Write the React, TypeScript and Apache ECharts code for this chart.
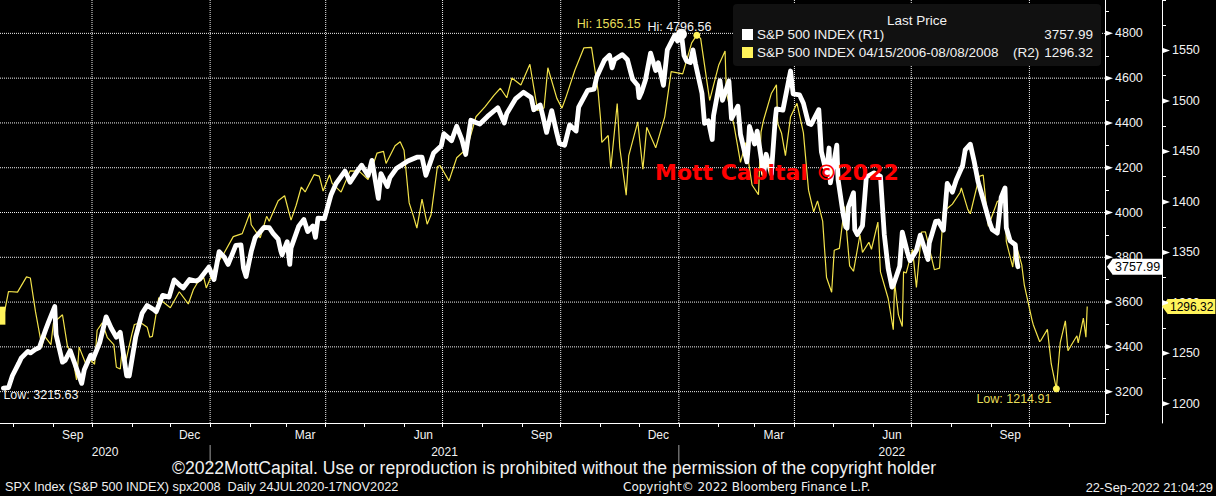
import React, { useEffect, useRef } from 'react';
import * as echarts from 'echarts';

// S&P 500 INDEX (R1), 24 Jul 2020 - 22 Sep 2022
const spx2020: [string, number][] = [
  ['2020-07-24', 3215.63], ['2020-07-28', 3218], ['2020-07-31', 3271], ['2020-08-05', 3327], ['2020-08-07', 3351],
  ['2020-08-12', 3380], ['2020-08-14', 3373], ['2020-08-18', 3389], ['2020-08-21', 3397], ['2020-08-26', 3478],
  ['2020-08-28', 3508], ['2020-09-02', 3580], ['2020-09-03', 3455], ['2020-09-08', 3332], ['2020-09-10', 3339],
  ['2020-09-14', 3383], ['2020-09-18', 3319], ['2020-09-23', 3237], ['2020-09-25', 3298], ['2020-09-30', 3363],
  ['2020-10-02', 3348], ['2020-10-07', 3419], ['2020-10-12', 3534], ['2020-10-16', 3483], ['2020-10-20', 3443],
  ['2020-10-23', 3465], ['2020-10-28', 3271], ['2020-10-30', 3270], ['2020-11-04', 3443], ['2020-11-09', 3550],
  ['2020-11-13', 3585], ['2020-11-18', 3567], ['2020-11-20', 3557], ['2020-11-25', 3630], ['2020-11-30', 3622],
  ['2020-12-04', 3699], ['2020-12-09', 3672], ['2020-12-11', 3663], ['2020-12-16', 3701], ['2020-12-21', 3694],
  ['2020-12-24', 3703], ['2020-12-31', 3756],
];
const spx2021: [string, number][] = [
  ['2021-01-04', 3701], ['2021-01-08', 3825], ['2021-01-12', 3801], ['2021-01-15', 3768], ['2021-01-21', 3853],
  ['2021-01-25', 3855], ['2021-01-27', 3751], ['2021-01-29', 3714], ['2021-02-02', 3826], ['2021-02-05', 3887],
  ['2021-02-12', 3934], ['2021-02-16', 3932], ['2021-02-19', 3907], ['2021-02-23', 3881], ['2021-02-25', 3829],
  ['2021-02-26', 3811], ['2021-03-02', 3870], ['2021-03-04', 3768], ['2021-03-05', 3842], ['2021-03-11', 3939],
  ['2021-03-15', 3969], ['2021-03-18', 3915], ['2021-03-22', 3940], ['2021-03-24', 3889], ['2021-03-26', 3975],
  ['2021-03-31', 3973], ['2021-04-05', 4077], ['2021-04-09', 4129], ['2021-04-16', 4185], ['2021-04-20', 4135],
  ['2021-04-26', 4188], ['2021-04-29', 4211], ['2021-05-04', 4165], ['2021-05-07', 4233], ['2021-05-12', 4063],
  ['2021-05-14', 4174], ['2021-05-19', 4116], ['2021-05-21', 4156], ['2021-05-26', 4196], ['2021-06-04', 4230],
  ['2021-06-11', 4247], ['2021-06-15', 4247], ['2021-06-18', 4166], ['2021-06-24', 4266], ['2021-06-30', 4298],
  ['2021-07-02', 4352], ['2021-07-08', 4321], ['2021-07-12', 4385], ['2021-07-16', 4327], ['2021-07-19', 4259],
  ['2021-07-23', 4412], ['2021-07-27', 4402], ['2021-07-30', 4395], ['2021-08-05', 4429], ['2021-08-13', 4468],
  ['2021-08-18', 4400], ['2021-08-20', 4442], ['2021-08-27', 4509], ['2021-09-02', 4537], ['2021-09-08', 4514],
  ['2021-09-10', 4459], ['2021-09-15', 4480], ['2021-09-17', 4433], ['2021-09-20', 4358], ['2021-09-24', 4455],
  ['2021-09-28', 4353], ['2021-09-30', 4308], ['2021-10-04', 4300], ['2021-10-08', 4391], ['2021-10-13', 4364],
  ['2021-10-15', 4471], ['2021-10-22', 4545], ['2021-10-27', 4551], ['2021-10-29', 4605], ['2021-11-04', 4680],
  ['2021-11-08', 4702], ['2021-11-10', 4646], ['2021-11-12', 4683], ['2021-11-18', 4705], ['2021-11-22', 4682],
  ['2021-11-26', 4595], ['2021-11-30', 4567], ['2021-12-01', 4513], ['2021-12-03', 4538], ['2021-12-06', 4592],
  ['2021-12-10', 4712], ['2021-12-14', 4634], ['2021-12-16', 4669], ['2021-12-20', 4568], ['2021-12-23', 4726],
  ['2021-12-29', 4793], ['2021-12-31', 4766],
];
const spx2022: [string, number][] = [
  ['2022-01-03', 4796.56], ['2022-01-05', 4701], ['2022-01-07', 4677], ['2022-01-10', 4670], ['2022-01-12', 4726],
  ['2022-01-14', 4663], ['2022-01-19', 4533], ['2022-01-21', 4398], ['2022-01-24', 4410], ['2022-01-27', 4326],
  ['2022-01-28', 4432], ['2022-02-02', 4589], ['2022-02-04', 4501], ['2022-02-09', 4587], ['2022-02-11', 4419],
  ['2022-02-16', 4475], ['2022-02-18', 4349], ['2022-02-23', 4226], ['2022-02-24', 4289], ['2022-02-25', 4385],
  ['2022-03-01', 4306], ['2022-03-03', 4363], ['2022-03-08', 4171], ['2022-03-10', 4260], ['2022-03-14', 4173],
  ['2022-03-17', 4412], ['2022-03-18', 4463], ['2022-03-23', 4457], ['2022-03-29', 4632], ['2022-03-31', 4530],
  ['2022-04-05', 4525], ['2022-04-08', 4488], ['2022-04-12', 4397], ['2022-04-14', 4393], ['2022-04-20', 4459],
  ['2022-04-22', 4272], ['2022-04-26', 4175], ['2022-04-28', 4288], ['2022-04-29', 4132], ['2022-05-04', 4301],
  ['2022-05-05', 4147], ['2022-05-09', 3991], ['2022-05-11', 3935], ['2022-05-12', 3930], ['2022-05-13', 4024],
  ['2022-05-17', 4088], ['2022-05-18', 3923], ['2022-05-20', 3901], ['2022-05-24', 3941], ['2022-05-27', 4158],
  ['2022-06-02', 4177], ['2022-06-07', 4161], ['2022-06-10', 3901], ['2022-06-13', 3750], ['2022-06-16', 3667],
  ['2022-06-17', 3675], ['2022-06-22', 3760], ['2022-06-24', 3912], ['2022-06-28', 3822], ['2022-06-30', 3785],
  ['2022-07-05', 3831], ['2022-07-08', 3899], ['2022-07-14', 3790], ['2022-07-15', 3863], ['2022-07-20', 3960],
  ['2022-07-22', 3962], ['2022-07-26', 3921], ['2022-07-29', 4130], ['2022-08-02', 4091], ['2022-08-05', 4145],
  ['2022-08-10', 4210], ['2022-08-12', 4280], ['2022-08-16', 4305], ['2022-08-19', 4228], ['2022-08-22', 4138],
  ['2022-08-26', 4058], ['2022-08-31', 3955], ['2022-09-02', 3924], ['2022-09-06', 3908], ['2022-09-09', 4067],
  ['2022-09-12', 4110], ['2022-09-13', 3932], ['2022-09-16', 3873], ['2022-09-20', 3856], ['2022-09-21', 3790],
  ['2022-09-22', 3757.99],
];

// S&P 500 INDEX 04/15/2006 - 08/08/2008 (R2), overlaid from 24 Jul 2020
const spx2006: [string, number][] = [
  ['2006-04-17', 1285.33], ['2006-04-21', 1311.28], ['2006-04-28', 1310.61], ['2006-05-05', 1325.76], ['2006-05-08', 1324.66],
  ['2006-05-12', 1291.24], ['2006-05-17', 1256.58], ['2006-05-19', 1267.03], ['2006-05-22', 1262.07], ['2006-05-24', 1258.57],
  ['2006-05-26', 1280.16], ['2006-06-02', 1288.22], ['2006-06-06', 1256.15], ['2006-06-09', 1252.3], ['2006-06-13', 1223.69],
  ['2006-06-15', 1256.16], ['2006-06-20', 1240.12], ['2006-06-23', 1244.5], ['2006-06-27', 1239.2], ['2006-06-29', 1272.87],
  ['2006-07-03', 1280.19], ['2006-07-07', 1265.48], ['2006-07-12', 1258.6], ['2006-07-14', 1236.2], ['2006-07-17', 1234.49],
  ['2006-07-19', 1259.81], ['2006-07-21', 1240.29], ['2006-07-26', 1268.88], ['2006-07-28', 1278.55], ['2006-08-02', 1280.27],
  ['2006-08-07', 1275.77], ['2006-08-09', 1265.95], ['2006-08-11', 1266.74], ['2006-08-16', 1305.22], ['2006-08-18', 1302.3],
  ['2006-08-25', 1295.09], ['2006-09-01', 1311.01], ['2006-09-08', 1298.92], ['2006-09-12', 1313.25], ['2006-09-15', 1319.66],
  ['2006-09-20', 1325.18], ['2006-09-22', 1314.78], ['2006-09-29', 1335.85], ['2006-10-06', 1349.59], ['2006-10-13', 1365.62],
  ['2006-10-20', 1368.6], ['2006-10-26', 1389.08], ['2006-10-27', 1377.34], ['2006-11-03', 1364.3], ['2006-11-08', 1385.72],
  ['2006-11-10', 1380.9], ['2006-11-17', 1401.2], ['2006-11-22', 1406.09], ['2006-11-27', 1381.96], ['2006-12-01', 1396.71],
  ['2006-12-05', 1414.76], ['2006-12-08', 1409.84], ['2006-12-15', 1427.09], ['2006-12-19', 1425.55], ['2006-12-22', 1410.76],
  ['2006-12-27', 1426.84], ['2006-12-29', 1418.3],
];
const spx2007: [string, number][] = [
  ['2007-01-05', 1409.71], ['2007-01-12', 1430.73], ['2007-01-19', 1430.5], ['2007-01-26', 1422.18], ['2007-02-02', 1448.39],
  ['2007-02-07', 1450.02], ['2007-02-09', 1438.06], ['2007-02-16', 1455.54], ['2007-02-20', 1459.68], ['2007-02-23', 1451.19],
  ['2007-02-27', 1399.04], ['2007-03-02', 1387.17], ['2007-03-05', 1374.12], ['2007-03-09', 1402.84], ['2007-03-13', 1377.95],
  ['2007-03-16', 1386.95], ['2007-03-21', 1435.04], ['2007-03-23', 1436.11], ['2007-03-30', 1420.86], ['2007-04-05', 1443.76],
  ['2007-04-13', 1452.85], ['2007-04-20', 1484.35], ['2007-04-27', 1494.07], ['2007-05-04', 1505.62], ['2007-05-09', 1512.58],
  ['2007-05-14', 1503.15], ['2007-05-18', 1522.75], ['2007-05-25', 1515.73], ['2007-06-01', 1536.34], ['2007-06-07', 1490.72],
  ['2007-06-12', 1493.0], ['2007-06-15', 1532.91], ['2007-06-22', 1502.56], ['2007-06-26', 1492.89], ['2007-06-29', 1503.35],
  ['2007-07-06', 1530.44], ['2007-07-13', 1552.5], ['2007-07-19', 1553.08], ['2007-07-24', 1511.04], ['2007-07-26', 1482.66],
  ['2007-07-27', 1458.95], ['2007-08-01', 1465.81], ['2007-08-03', 1433.06], ['2007-08-08', 1497.49], ['2007-08-10', 1453.64],
  ['2007-08-15', 1406.7], ['2007-08-17', 1445.94], ['2007-08-24', 1479.37], ['2007-08-28', 1432.36], ['2007-08-31', 1473.99],
  ['2007-09-07', 1453.55], ['2007-09-14', 1484.25], ['2007-09-19', 1529.03], ['2007-09-28', 1526.75], ['2007-10-05', 1557.59],
  ['2007-10-09', 1565.15], ['2007-10-12', 1561.8], ['2007-10-19', 1500.63], ['2007-10-26', 1535.28], ['2007-10-31', 1549.38],
  ['2007-11-01', 1508.44], ['2007-11-07', 1475.62], ['2007-11-12', 1439.18], ['2007-11-16', 1458.74], ['2007-11-21', 1416.77],
  ['2007-11-26', 1407.22], ['2007-11-28', 1469.02], ['2007-11-30', 1481.14], ['2007-12-06', 1507.34], ['2007-12-10', 1515.96],
  ['2007-12-11', 1477.65], ['2007-12-14', 1467.95], ['2007-12-17', 1445.9], ['2007-12-21', 1484.46], ['2007-12-26', 1497.66],
  ['2007-12-31', 1468.36],
];
const spx2008: [string, number][] = [
  ['2008-01-04', 1411.63], ['2008-01-08', 1390.19], ['2008-01-11', 1401.02], ['2008-01-15', 1380.95], ['2008-01-18', 1325.19],
  ['2008-01-22', 1310.5], ['2008-01-24', 1352.07], ['2008-01-28', 1353.96], ['2008-02-01', 1395.42], ['2008-02-05', 1336.64],
  ['2008-02-08', 1331.29], ['2008-02-13', 1367.21], ['2008-02-15', 1349.99], ['2008-02-20', 1360.03], ['2008-02-22', 1353.11],
  ['2008-02-27', 1380.02], ['2008-02-29', 1330.63], ['2008-03-06', 1304.34], ['2008-03-10', 1273.37], ['2008-03-11', 1320.65],
  ['2008-03-14', 1288.14], ['2008-03-17', 1276.6], ['2008-03-18', 1330.74], ['2008-03-20', 1329.51], ['2008-03-25', 1352.99],
  ['2008-03-28', 1315.22], ['2008-04-01', 1370.18], ['2008-04-04', 1370.4], ['2008-04-11', 1332.83], ['2008-04-15', 1334.43],
  ['2008-04-18', 1390.33], ['2008-04-25', 1397.84], ['2008-05-01', 1409.34], ['2008-05-02', 1413.9], ['2008-05-07', 1392.57],
  ['2008-05-09', 1388.28], ['2008-05-16', 1425.35], ['2008-05-19', 1426.63], ['2008-05-23', 1375.93], ['2008-05-30', 1400.38],
  ['2008-06-05', 1404.05], ['2008-06-06', 1360.68], ['2008-06-11', 1335.49], ['2008-06-13', 1360.03], ['2008-06-18', 1337.81],
  ['2008-06-20', 1317.93], ['2008-06-26', 1283.15], ['2008-06-27', 1278.38], ['2008-07-02', 1261.52], ['2008-07-03', 1262.9],
  ['2008-07-08', 1273.7], ['2008-07-11', 1239.49], ['2008-07-15', 1214.91], ['2008-07-18', 1260.68], ['2008-07-22', 1282.19],
  ['2008-07-24', 1252.54], ['2008-07-29', 1263.2], ['2008-07-31', 1267.38], ['2008-08-01', 1260.31], ['2008-08-05', 1284.88],
  ['2008-08-07', 1266.07], ['2008-08-08', 1296.32],
];

const r1Labels = [3200, 3400, 3600, 3800, 4000, 4200, 4400, 4600, 4800];
const r1Minor = [3100, 3300, 3500, 3700, 3900, 4100, 4300, 4500, 4700, 4900];
const r2Labels = [1200, 1250, 1300, 1350, 1400, 1450, 1500, 1550];
const r2Minor = [1225, 1275, 1325, 1375, 1425, 1475, 1525, 1575, 1600];
const monthNames = ['Jan', 'Feb', 'Mar', 'Apr', 'May', 'Jun', 'Jul', 'Aug', 'Sep', 'Oct', 'Nov', 'Dec'];
const monthLabelDates = ['2020-09-16', '2020-12-16', '2021-03-16', '2021-06-16', '2021-09-16', '2021-12-16', '2022-03-16', '2022-06-16', '2022-09-16'];
const quarterGridDates = ['2020-10-01', '2021-01-01', '2021-04-01', '2021-07-01', '2021-10-01', '2022-01-01', '2022-04-01', '2022-07-01', '2022-10-01'];
const monthStartDates = ['2020-08-01', '2020-09-01', '2020-10-01', '2020-11-01', '2020-12-01', '2021-01-01', '2021-02-01', '2021-03-01',
  '2021-04-01', '2021-05-01', '2021-06-01', '2021-07-01', '2021-08-01', '2021-09-01', '2021-10-01', '2021-11-01', '2021-12-01',
  '2022-01-01', '2022-02-01', '2022-03-01', '2022-04-01', '2022-05-01', '2022-06-01', '2022-07-01', '2022-08-01', '2022-09-01',
  '2022-10-01', '2022-11-01'];
const yearSeparatorDates = ['2021-01-01', '2022-01-01'];
const years = [2020, 2021, 2022];

const DAY = 86400000;
const ts = (d: string) => Date.parse(d + 'T00:00:00Z');
const FONT = 'Liberation Sans';
const YELLOW = '#f2e24a';
const TAG_YELLOW = '#fff35a';
const CLEAR = 'rgba(0,0,0,0)';

export default function App() {
  const ref = useRef<HTMLDivElement>(null);
  useEffect(() => {
    if (!ref.current) return;
    const chart = echarts.init(ref.current, null, { renderer: 'svg' });

    const spxAll = [...spx2020, ...spx2021, ...spx2022];
    const oldAll = [...spx2006, ...spx2007, ...spx2008];
    const shift = ts(spxAll[0][0]) - ts(oldAll[0][0]);
    const whiteData = spxAll.map(([d, v]) => [ts(d), v]);
    const yellowData = oldAll.map(([d, v]) => [ts(d) + shift, v]);

    const xMin = ts('2020-10-01') - 71.64 * DAY;
    const xMax = xMin + 860.5 * DAY;
    const r1Min = 3060;
    const r1Max = 4949;
    const plotHeight = 423;
    const unitsPerPx = (r1Max - r1Min) / plotHeight;

    const pick = (arr: number[][], f: (a: number, b: number) => boolean) =>
      arr.reduce((best, p) => (f(p[1], best[1]) ? p : best), arr[0]);
    const wHi = pick(whiteData, (a, b) => a > b);
    const wLo = pick(whiteData, (a, b) => a < b);
    const yHi = pick(yellowData, (a, b) => a > b);
    const yLo = pick(yellowData, (a, b) => a < b);
    const wLast = spxAll[spxAll.length - 1][1];
    const yLast = oldAll[oldAll.length - 1][1];

    const yearCenters = years.map((y) => {
      const s = Math.max(xMin, ts(`${y}-01-01`));
      const e = Math.min(xMax, ts(`${y + 1}-01-01`));
      return (s + e) / 2;
    });

    const lbl = { color: '#f2f2f2', fontFamily: FONT, fontSize: 12.5 };
    const noLabel = { show: false };
    const gridLine = (data: number[][], style: any) => ({
      type: 'line', xAxisIndex: 0, yAxisIndex: 0, data, z: 1, silent: true,
      showSymbol: false, symbol: 'none', clip: false,
      lineStyle: style,
      emphasis: { disabled: true },
    });
    const dotted = { color: '#f0f0f0', width: 1, type: 'dotted' };
    const hGridSeries = r1Labels.map((v) => gridLine([[xMin, v], [xMax, v]], dotted));
    const vGridSeries = quarterGridDates.map((d) => gridLine([[ts(d), r1Min], [ts(d), r1Max]], dotted));
    // year separators sit 22-42px below the plot, along the same x scale
    const sepSeries = yearSeparatorDates.map((d) =>
      gridLine([[ts(d), r1Min - 22 * unitsPerPx], [ts(d), r1Min - 42 * unitsPerPx]], { color: '#a0a0a0', width: 1, type: 'solid' }));

    const graphics: any[] = [
      { type: 'rect', z: 100, shape: { x: 733, y: 4, width: 368, height: 62, r: 4 }, style: { fill: '#111111' } },
      { type: 'text', z: 101, x: 917, y: 20, style: { text: 'Last Price', fill: '#f2f2f2', font: `13.5px "${FONT}"`, textAlign: 'center', textVerticalAlign: 'middle' } },
      { type: 'rect', z: 101, shape: { x: 742, y: 29, width: 11, height: 11 }, style: { fill: '#ffffff' } },
      { type: 'text', z: 101, x: 757, y: 34.5, style: { text: 'S&P 500 INDEX', fill: '#f2f2f2', font: `13.5px "${FONT}"`, textVerticalAlign: 'middle' } },
      { type: 'text', z: 101, x: 858, y: 34.5, style: { text: '(R1)', fill: '#f2f2f2', font: `13.5px "${FONT}"`, textVerticalAlign: 'middle' } },
      { type: 'text', z: 101, x: 1093, y: 34.5, style: { text: wLast.toFixed(2), fill: '#f2f2f2', font: `13.5px "${FONT}"`, textAlign: 'right', textVerticalAlign: 'middle' } },
      { type: 'rect', z: 101, shape: { x: 742, y: 47, width: 11, height: 11 }, style: { fill: TAG_YELLOW } },
      { type: 'text', z: 101, x: 757, y: 52.5, style: { text: 'S&P 500 INDEX 04/15/2006-08/08/2008', fill: '#f2f2f2', font: `13.5px "${FONT}"`, textVerticalAlign: 'middle' } },
      { type: 'text', z: 101, x: 1013, y: 52.5, style: { text: '(R2)', fill: '#f2f2f2', font: `13.5px "${FONT}"`, textVerticalAlign: 'middle' } },
      { type: 'text', z: 101, x: 1093, y: 52.5, style: { text: yLast.toFixed(2), fill: '#f2f2f2', font: `13.5px "${FONT}"`, textAlign: 'right', textVerticalAlign: 'middle' } },
      { type: 'text', z: 102, x: 655, y: 172, style: { text: 'Mott Capital ©2022', fill: '#ff0000', font: 'bold 22px "DejaVu Sans"', textVerticalAlign: 'middle' } },
      { type: 'text', z: 101, x: 554, y: 468, style: { text: '©2022MottCapital. Use or reproduction is prohibited without the permission of the copyright holder', fill: '#f0f0f0', font: `17.6px "${FONT}"`, textAlign: 'center', textVerticalAlign: 'middle' } },
      { type: 'text', z: 101, x: 5, y: 487, style: { text: 'SPX Index (S&P 500 INDEX) spx2008  Daily 24JUL2020-17NOV2022', fill: '#f0f0f0', font: `12.7px "${FONT}"`, textVerticalAlign: 'middle' } },
      { type: 'text', z: 101, x: 623, y: 487, style: { text: 'Copyright© 2022 Bloomberg Finance L.P.', fill: '#f0f0f0', font: '12px "DejaVu Sans"', textVerticalAlign: 'middle' } },
      { type: 'text', z: 101, x: 1213, y: 487, style: { text: '22-Sep-2022 21:04:29', fill: '#f0f0f0', font: `12.8px "${FONT}"`, textAlign: 'right', textVerticalAlign: 'middle' } },
    ];

    const option: any = {
      animation: false,
      backgroundColor: '#000000',
      textStyle: { fontFamily: FONT },
      grid: { left: 0, right: 111, top: 0, bottom: 73, containLabel: false },
      xAxis: [
        {
          type: 'value', min: xMin, max: xMax, position: 'bottom', scale: true,
          axisLine: { show: true, lineStyle: { color: '#ffffff', width: 1 } },
          axisTick: { show: true, customValues: monthStartDates.map(ts), length: 4, lineStyle: { color: '#ffffff', width: 1 } },
          axisLabel: {
            show: true, customValues: monthLabelDates.map(ts), margin: 6, ...lbl, fontSize: 12,
            formatter: (v: number) => monthNames[new Date(v).getUTCMonth()],
          },
          splitLine: { show: false },
        },
        {
          type: 'value', min: xMin, max: xMax, position: 'bottom', offset: 22, scale: true,
          axisLine: { show: false }, axisTick: { show: false },
          axisLabel: {
            show: true, customValues: yearCenters, margin: 1, ...lbl, fontSize: 12,
            formatter: (v: number) => String(new Date(v).getUTCFullYear()),
          },
          splitLine: { show: false },
        },
      ],
      yAxis: [
        {
          type: 'value', position: 'right', offset: 0, min: r1Min, max: r1Max, scale: true,
          axisLine: { show: true, lineStyle: { color: '#ffffff' } },
          axisTick: { show: true, customValues: r1Minor, length: 4, lineStyle: { color: '#ffffff' } },
          axisLabel: { show: true, customValues: r1Labels, margin: 10, ...lbl, formatter: (v: number) => String(v) },
          splitLine: { show: false },
        },
        {
          type: 'value', position: 'right', offset: 57, min: 1181, max: 1600, scale: true,
          axisLine: { show: true, lineStyle: { color: '#ffffff' } },
          axisTick: { show: true, customValues: r2Minor, length: 4, lineStyle: { color: '#ffffff' } },
          axisLabel: { show: true, customValues: r2Labels, margin: 10, ...lbl, formatter: (v: number) => String(v) },
          splitLine: { show: false },
        },
      ],
      series: [
        ...hGridSeries,
        ...vGridSeries,
        ...sepSeries,
        {
          name: 'S&P 500 INDEX 04/15/2006-08/08/2008 (R2)', type: 'line', xAxisIndex: 0, yAxisIndex: 1,
          data: yellowData, showSymbol: false, z: 3,
          lineStyle: { color: YELLOW, width: 1.2 },
          markLine: {
            silent: true, symbol: ['none', 'none'], lineStyle: { color: CLEAR, width: 0 },
            label: {
              show: true, position: 'end', distance: 63, formatter: yLast.toFixed(2),
              backgroundColor: TAG_YELLOW, color: '#000000', padding: [2, 2, 1, 2], fontFamily: FONT, fontSize: 12,
            },
            data: [{ yAxis: yLast }],
          },
          markPoint: {
            silent: true,
            data: [
              {
                coord: yHi, symbol: 'circle', symbolSize: 7, itemStyle: { color: TAG_YELLOW },
                label: {
                  show: true, position: [-116.5, -14.5], align: 'left', verticalAlign: 'top',
                  formatter: `Hi: ${yHi[1].toFixed(2)}`, color: '#e8de5a', fontFamily: FONT, fontSize: 12.5,
                },
              },
              {
                coord: yLo, symbol: 'circle', symbolSize: 7, itemStyle: { color: TAG_YELLOW },
                label: {
                  show: true, position: [-76.5, 7.5], align: 'left', verticalAlign: 'top',
                  formatter: `Low: ${yLo[1].toFixed(2)}`, color: '#e8de5a', fontFamily: FONT, fontSize: 12.5,
                },
              },
              {
                coord: yellowData[0], symbol: 'rect', symbolSize: [6, 18], symbolOffset: [-1, -2],
                itemStyle: { color: TAG_YELLOW }, label: noLabel,
              },
              {
                coord: [xMax, yLast], symbol: 'triangle', symbolRotate: 90, symbolSize: [16, 6], symbolOffset: [60, 0],
                itemStyle: { color: TAG_YELLOW }, label: noLabel,
              },
              ...r2Labels.map((v) => ({
                coord: [xMax, v], symbol: 'triangle', symbolRotate: -90, symbolSize: [5, 7], symbolOffset: [61.5, 0],
                itemStyle: { color: '#ffffff' }, label: noLabel,
              })),
            ],
          },
        },
        {
          name: 'S&P 500 INDEX (R1)', type: 'line', xAxisIndex: 0, yAxisIndex: 0,
          data: whiteData, showSymbol: false, z: 4,
          lineStyle: { color: '#ffffff', width: 4.8, join: 'round', cap: 'round' },
          markLine: {
            silent: true, symbol: ['none', 'none'], lineStyle: { color: CLEAR, width: 0 },
            label: {
              show: true, position: 'end', distance: 8, formatter: wLast.toFixed(2),
              backgroundColor: '#ffffff', color: '#000000', padding: [2, 2, 1, 2], fontFamily: FONT, fontSize: 12.5,
            },
            data: [{ yAxis: wLast }],
          },
          markPoint: {
            silent: true,
            data: [
              {
                coord: wHi, symbol: 'circle', symbolSize: 11, itemStyle: { color: '#ffffff' },
                label: {
                  show: true, position: [-28.5, -8.5], align: 'left', verticalAlign: 'top',
                  formatter: `Hi: ${wHi[1].toFixed(2)}`, color: '#f4f4f4', fontFamily: FONT, fontSize: 12.5,
                },
              },
              {
                coord: wLo, symbol: 'circle', symbolSize: 2, itemStyle: { color: CLEAR },
                label: {
                  show: true, position: [1, 1.5], align: 'left', verticalAlign: 'top',
                  formatter: `Low: ${wLo[1].toFixed(2)}`, color: '#f4f4f4', fontFamily: FONT, fontSize: 12.5,
                },
              },
              {
                coord: [xMax, wLast], symbol: 'triangle', symbolRotate: 90, symbolSize: [17, 6], symbolOffset: [5, 0],
                itemStyle: { color: '#ffffff' }, label: noLabel,
              },
              ...r1Labels.map((v) => ({
                coord: [xMax, v], symbol: 'triangle', symbolRotate: -90, symbolSize: [5, 7], symbolOffset: [4.5, 0],
                itemStyle: { color: '#ffffff' }, label: noLabel,
              })),
            ],
          },
        },
      ],
      graphic: graphics,
    };

    chart.setOption(option);
    return () => chart.dispose();
  }, []);

  return (
    <div
      ref={ref}
      style={{ position: 'fixed', left: 0, top: 0, width: 1216, height: 496, background: '#000000' }}
    />
  );
}
